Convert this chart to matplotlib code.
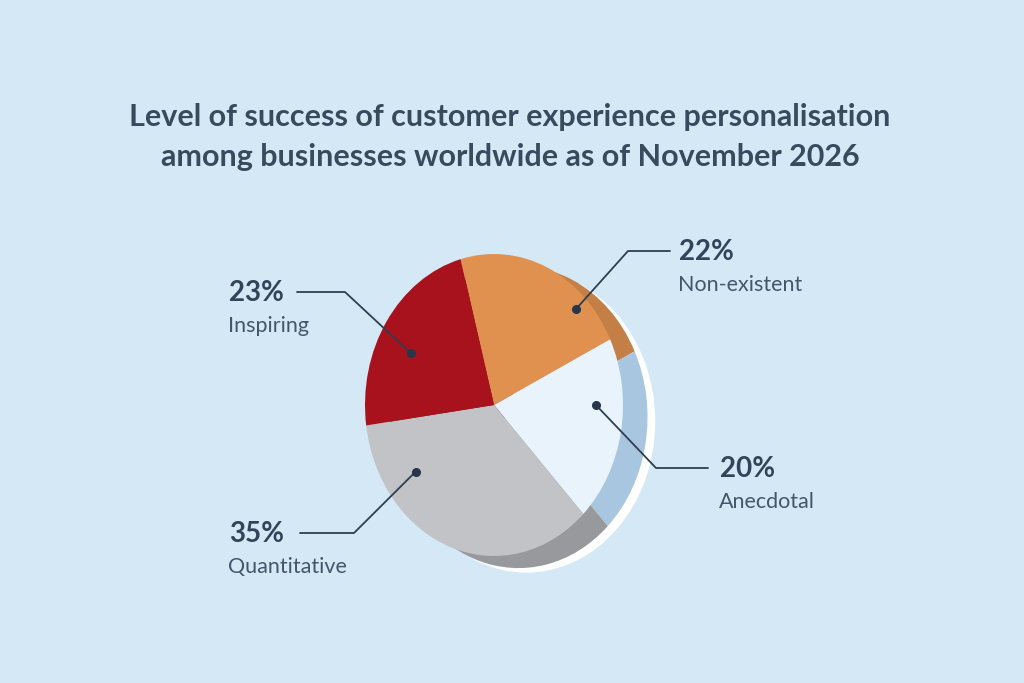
import numpy as np
import matplotlib.pyplot as plt

# data
categories = ['Non-existent', 'Anecdotal', 'Quantitative', 'Inspiring']
shares = [22, 20, 35, 23]
face_colors = ['#e0914f', '#e8f3fb', '#c2c3c7', '#a8121c']
rim_colors = ['#c47f47', '#a9c6e0', '#98999c', '#7e0e15']

title = ('Level of success of customer experience personalisation\n'
         'among businesses worldwide as of November 2026')

W, H = 1024, 683
BG = '#d4e8f6'
DARK = '#33445a'

# pie geometry in pixels (face ellipse)
cx, cy, rx, ry = 494, 405, 129, 151
lim = 1.4

fig = plt.figure(figsize=(W / 100, H / 100), dpi=100, facecolor=BG)
plt.rcParams['font.family'] = ['Lato', 'DejaVu Sans']

ax = fig.add_axes([(cx - rx * lim) / W, (H - cy - ry * lim) / H,
                   2 * rx * lim / W, 2 * ry * lim / H])
ax.set_facecolor('none')

start = 105
# white highlight behind the rim
ax.pie([1], colors=['white'], radius=1, center=(0.25, -0.11),
       wedgeprops=dict(linewidth=0))
# rim (depth) of the disc
ax.pie(shares, colors=rim_colors, startangle=start, counterclock=False,
       radius=1, center=(0.19, -0.08), wedgeprops=dict(linewidth=0))
# face
ax.pie(shares, colors=face_colors, startangle=start, counterclock=False,
       radius=1, center=(0, 0), wedgeprops=dict(linewidth=0))
ax.set_aspect('auto')
ax.set_xlim(-lim, lim)
ax.set_ylim(-lim, lim)
ax.axis('off')

# overlay in pixel coordinates for leader lines and labels
ov = fig.add_axes([0, 0, 1, 1])
ov.set_xlim(0, W)
ov.set_ylim(H, 0)
ov.axis('off')
ov.patch.set_alpha(0)

# label layout: dot (angle deg, radius frac), elbow x, line end x, row y, text x
layout = {
    'Inspiring':    dict(dot=(152, 0.73), elbow=345, end=297, y=292, tx=229),
    'Non-existent': dict(dot=(45, 0.90), elbow=628, end=670, y=251, tx=679),
    'Anecdotal':    dict(dot=(0, 0.79), elbow=656, end=708, y=468, tx=720),
    'Quantitative': dict(dot=(216, 0.75), elbow=354, end=300, y=533, tx=229),
}

for cat, val in zip(categories, shares):
    L = layout[cat]
    a, r = L['dot']
    dx = cx + rx * r * np.cos(np.radians(a))
    dy = cy - ry * r * np.sin(np.radians(a))
    ov.plot([dx, L['elbow'], L['end']], [dy, L['y'], L['y']],
            color='#2f3e50', lw=1.3, solid_capstyle='round')
    ov.plot(dx, dy, 'o', color='#27364a', ms=5.5)
    ov.text(L['tx'], L['y'] + 1, f'{val}%', fontsize=20, fontweight='bold',
            color=DARK, ha='left', va='center')
    ov.text(L['tx'] - 1, L['y'] + 34, cat, fontsize=15.5,
            color='#45566a', ha='left', va='center')

fig.text(510 / W, 1 - 137 / H, title, fontsize=22, fontweight='bold',
         color='#3a4a5e', ha='center', va='center', linespacing=1.5)

fig.savefig('out.png', dpi=100, facecolor=BG)
